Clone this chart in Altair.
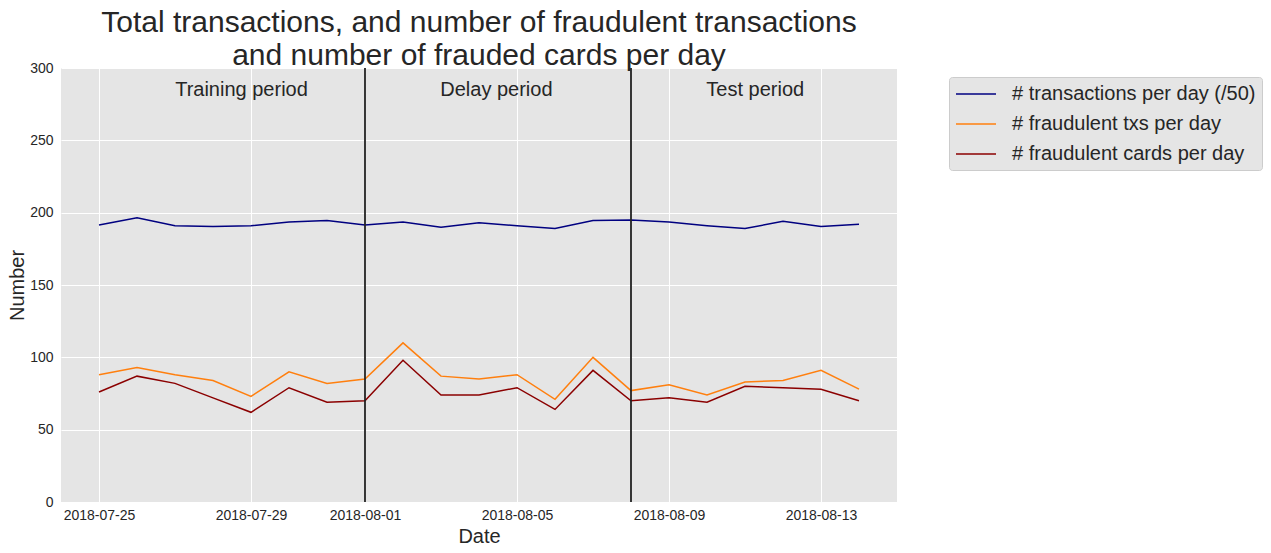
import altair as alt
import pandas as pd

dates = pd.date_range("2018-07-25", "2018-08-14", freq="D").strftime("%Y-%m-%d").tolist()

tx_per_day_div50 = [191.5, 196.5, 191.0, 190.5, 191.0, 193.5, 194.5, 191.5, 193.5, 190.0,
                    193.0, 191.0, 189.0, 194.5, 195.0, 193.5, 191.0, 189.0, 194.0, 190.5, 192.0]
fraud_txs_per_day = [88, 93, 88, 84, 73, 90, 82, 85, 110, 87,
                     85, 88, 71, 100, 77, 81, 74, 83, 84, 91, 78]
fraud_cards_per_day = [76, 87, 82, 72, 62, 79, 69, 70, 98, 74,
                       74, 79, 64, 91, 70, 72, 69, 80, 79, 78, 70]

series_names = ["# transactions per day (/50)", "# fraudulent txs per day", "# fraudulent cards per day"]
series_colors = ["#000080", "#ff7f0e", "#8b0000"]

period_starts = ["2018-08-01", "2018-08-08"]
period_labels = ["Training period", "Delay period", "Test period"]
period_label_dates = ["2018-07-28T18:00:00", "2018-08-04T11:00:00", "2018-08-11T06:30:00"]
period_label_y = [285, 285, 285]

rows = []
for name, vals in zip(series_names, [tx_per_day_div50, fraud_txs_per_day, fraud_cards_per_day]):
    for d, v in zip(dates, vals):
        rows.append({"Date": d, "value": v, "series": name})
df = pd.DataFrame(rows)

df_rules = pd.DataFrame({"Date": period_starts})
df_text = pd.DataFrame({"Date": period_label_dates, "y": period_label_y, "label": period_labels})

FONT = "Liberation Sans"
TXT = "#262626"

x_scale = alt.Scale(type="utc",
                    domain=[alt.DateTime(year=2018, month=7, date=24, utc=True),
                            alt.DateTime(year=2018, month=8, date=15, utc=True)])
tick_days = [(7, 25), (7, 29), (8, 1), (8, 5), (8, 9), (8, 13)]
x_axis = alt.Axis(values=[alt.DateTime(year=2018, month=m, date=d, utc=True) for m, d in tick_days],
                  labelExpr="utcFormat(datum.value, '%Y-%m-%d')",
                  title="Date", titleFontSize=20, titleFont=FONT, titleColor=TXT, titleFontWeight="normal",
                  titlePadding=4,
                  labelFontSize=14, labelFont=FONT, labelColor=TXT, labelPadding=6,
                  grid=True, gridColor="white", gridWidth=1, ticks=False, domain=False,
                  labelFlush=False)
y_axis = alt.Axis(values=[0, 50, 100, 150, 200, 250, 300],
                  title="Number", titleFontSize=20, titleFont=FONT, titleColor=TXT, titleFontWeight="normal",
                  titlePadding=2,
                  labelFontSize=14, labelFont=FONT, labelColor=TXT, labelPadding=8,
                  grid=True, gridColor="white", gridWidth=1, ticks=False, domain=False)

lines = alt.Chart(df).mark_line(strokeWidth=1.5).encode(
    x=alt.X("Date:T", scale=x_scale, axis=x_axis),
    y=alt.Y("value:Q", scale=alt.Scale(domain=[0, 300], nice=False), axis=y_axis),
    color=alt.Color("series:N",
                    scale=alt.Scale(domain=series_names, range=series_colors),
                    sort=series_names,
                    legend=alt.Legend(title=None, orient="none", legendX=888, legendY=9,
                                      symbolType="M-1,0L3,0", symbolSize=400, symbolStrokeWidth=1.6,
                                      labelFontSize=20, labelFont=FONT, labelColor=TXT,
                                      labelOffset=35, rowPadding=9,
                                      fillColor="#E5E5E5", strokeColor="#cccccc", padding=6,
                                      cornerRadius=3, labelLimit=400)),
)

rules = alt.Chart(df_rules).mark_rule(color="#222222", strokeWidth=1.8).encode(
    x=alt.X("Date:T", scale=x_scale)
)

texts = alt.Chart(df_text).mark_text(fontSize=20, font=FONT, color=TXT, align="center", baseline="middle").encode(
    x=alt.X("Date:T", scale=x_scale),
    y=alt.Y("y:Q", scale=alt.Scale(domain=[0, 300], nice=False)),
    text="label:N",
)

chart = alt.layer(lines, rules, texts).properties(
    width=836, height=434,
    title=alt.TitleParams(
        text=["Total transactions, and number of fraudulent transactions",
              "and number of frauded cards per day"],
        fontSize=30, font=FONT, color=TXT, fontWeight="normal", anchor="middle",
        frame="group", lineHeight=33, baseline="bottom", offset=0, dy=40),
    autosize=alt.AutoSizeParams(type="none"),
    padding={"left": 53, "top": 60, "right": 366, "bottom": 43},
    background="white",
).configure_view(fill="#E5E5E5", stroke=None)

chart.save("out.html", embed_options={"renderer": "svg", "actions": False})
